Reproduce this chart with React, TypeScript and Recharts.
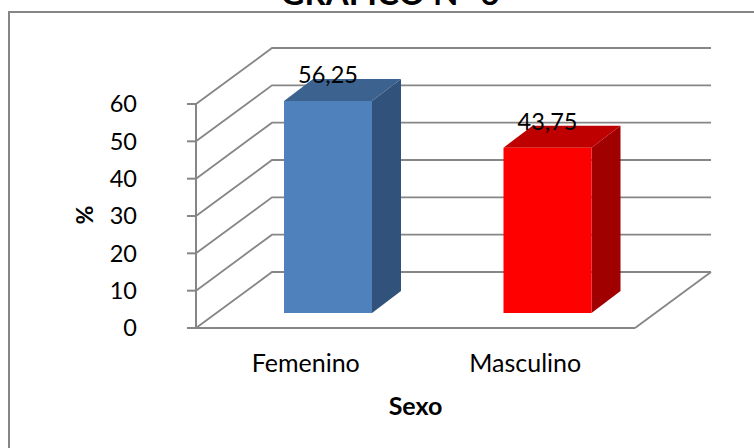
import { BarChart, Bar, XAxis, YAxis, CartesianGrid, LabelList, Label, Rectangle } from 'recharts';

const categories = ['Femenino', 'Masculino'];
const percentages = [56.25, 43.75];
const yTicks = [0, 10, 20, 30, 40, 50, 60];

const frontColors = ['#4F81BD', '#FF0000'];
const topColors = ['#3C6290', '#BE0000'];
const sideColors = ['#31527A', '#A00000'];

const data = categories.map((name, i) => ({ name, value: percentages[i] }));

const FONT = 'Lato, "Open Sans", sans-serif';
const LINE = '#868686';

// depth of the back wall and of the bar boxes
const WALL_DX = 76;
const WALL_DY = 56;
const BAR_DX = 29;
const BAR_DY = 22;
const BAR_SHIFT_X = 22;
const BAR_SHIFT_Y = 15;
const BAR_GROW = 2;

const Box3D = (props: any) => {
  const { x, y, width, height, index } = props;
  const left = x + BAR_SHIFT_X;
  const right = left + width;
  const top = y - BAR_SHIFT_Y - BAR_GROW;
  const bottom = y + height - BAR_SHIFT_Y;
  return (
    <g>
      <path
        d={`M${right},${top} L${right + BAR_DX},${top - BAR_DY} L${right + BAR_DX},${bottom - BAR_DY} L${right},${bottom} Z`}
        fill={sideColors[index]}
      />
      <path
        d={`M${left},${top} L${left + BAR_DX},${top - BAR_DY} L${right + BAR_DX},${top - BAR_DY} L${right},${top} Z`}
        fill={topColors[index]}
      />
      <Rectangle x={left} y={top} width={width} height={bottom - top} fill={frontColors[index]} />
    </g>
  );
};

const WallLine = (props: any) => {
  const { x1, x2, y1, index } = props;
  const backY = y1 - WALL_DY;
  const backLeft = x1 + WALL_DX;
  const backRight = x2 + WALL_DX;
  return (
    <g key={`wall-${index}`}>
      <path d={`M${x1},${y1} L${backLeft},${backY} L${backRight},${backY}`} fill="none" stroke={LINE} strokeWidth={1.8} />
      {y1 > 300 && <path d={`M${x2},${y1} L${backRight},${backY}`} fill="none" stroke={LINE} strokeWidth={1.8} />}
    </g>
  );
};

const ValueLabel = (props: any) => {
  const { x, y, width, value } = props;
  return (
    <text
      x={x + BAR_SHIFT_X + width / 2}
      y={y - BAR_SHIFT_Y - 20}
      textAnchor="middle"
      fontSize={23.5}
      fontFamily={FONT}
      fill="#000"
    >
      {String(value).replace('.', ',')}
    </text>
  );
};

export default function App() {
  return (
    <div style={{ position: 'absolute', left: 0, top: 0, width: 754, height: 448, background: '#fff' }}>
      <div
        style={{
          position: 'absolute',
          left: 8,
          top: 11,
          width: 746,
          height: 437,
          borderLeft: `2px solid ${LINE}`,
          borderTop: `2px solid ${LINE}`,
          boxSizing: 'border-box',
        }}
      />
      <BarChart
        width={754}
        height={448}
        data={data}
        margin={{ top: 104, right: 119, bottom: 90, left: 126 }}
        barSize={88}
        style={{ position: 'absolute', left: 0, top: 0 }}
      >
        <text x={390} y={5} textAnchor="middle" fontSize={33} fontWeight={700} fontFamily={FONT} fill="#000">
          GRAFICO N° 6
        </text>
        <CartesianGrid vertical={false} horizontal={WallLine} />
        <XAxis
          dataKey="name"
          axisLine={{ stroke: LINE, strokeWidth: 2 }}
          tickLine={false}
          tickMargin={20}
          tick={{ fontSize: 25, fontFamily: FONT, fill: '#000' }}
        >
          <Label value="Sexo" position="bottom" offset={39} fontSize={25} fontWeight={700} fontFamily={FONT} fill="#000" />
        </XAxis>
        <YAxis
          domain={[0, 60]}
          ticks={yTicks}
          width={70}
          axisLine={{ stroke: LINE, strokeWidth: 2 }}
          tickLine={{ stroke: LINE, strokeWidth: 2 }}
          tickSize={9}
          tickMargin={50}
          tick={{ fontSize: 23.5, fontFamily: FONT, fill: '#000' }}
        />
        <Bar dataKey="value" shape={Box3D} isAnimationActive={false}>
          <LabelList dataKey="value" content={ValueLabel} />
        </Bar>
        <text
          x={93}
          y={215}
          textAnchor="middle"
          fontSize={23}
          fontWeight={700}
          fontFamily={FONT}
          fill="#000"
          transform="rotate(-90 93 215)"
        >
          %
        </text>
      </BarChart>
    </div>
  );
}
